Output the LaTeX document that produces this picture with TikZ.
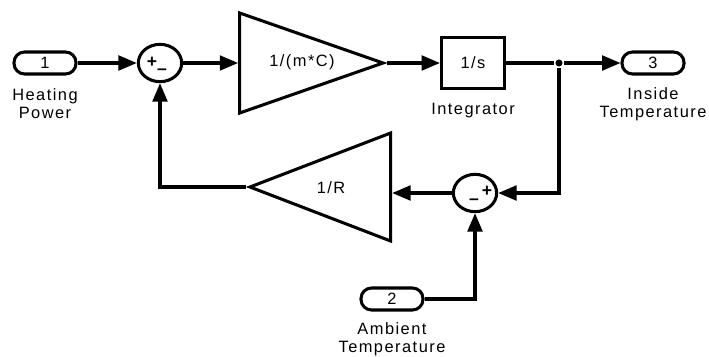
\documentclass[tikz,border=0pt]{standalone}
\usepackage{fontspec}
\setmainfont[LetterSpace=9]{Liberation Sans}
\usetikzlibrary{arrows.meta,positioning,shapes.geometric}

\begin{document}
\begin{tikzpicture}[
  x=0.03cm, y=-0.03cm,
  line width=2.6pt,
  font=\fontsize{14}{15.5}\selectfont,
  port/.style={draw, rounded corners=9pt, minimum width=1.86cm,
               minimum height=0.66cm, inner sep=0pt},
  gain/.style={draw, isosceles triangle, isosceles triangle stretches,
               inner sep=0pt},
  sum/.style={draw, ellipse, minimum width=1.3cm, minimum height=1.12cm,
              inner sep=0pt},
  block/.style={draw, minimum width=1.89cm, minimum height=1.53cm},
  lbl/.style={align=center, inner sep=0pt},
  sign/.style={font=\fontsize{15}{15}\selectfont\bfseries, inner sep=0pt},
  arrow/.style={-{Triangle[length=0.55cm,width=0.44cm]}}
]
\useasboundingbox (0,0) rectangle (709,356);

% forward path
\node[port] (in1) at (45,63) {1};
\node[lbl, below=10pt of in1] (in1lbl) {Heating\\Power};
\node[sum] (sum1) at (160,63) {};
\node[sign] (sum1p) at (152,62) {+};
\node[sign] (sum1m) at (162,72) {\textendash};
\node[gain, shape border rotate=0, minimum height=4.3cm, minimum width=3cm,
      anchor=apex] (gainC) at (387,63) {};
\node[lbl] (gainClbl) at (302,62) {1/(m*C)};
\node[block] (integ) at (473,63) {1/s};
\node[lbl, below=10pt of integ] (integlbl) {Integrator};
\node[circle, fill, inner sep=0pt, minimum size=6pt] (jn) at (559,63) {};
\node[port] (out3) at (653,63) {3};
\node[lbl, below=9pt of out3] (out3lbl) {Inside\\Temperature};

% feedback path
\node[sum] (sum2) at (475,193) {};
\node[sign] (sum2m) at (474,202) {\textendash};
\node[sign] (sum2p) at (487,191) {+};
\node[gain, shape border rotate=180, minimum height=4.22cm, minimum width=3.24cm,
      anchor=apex] (gainR) at (246,187) {};
\node[lbl] (gainRlbl) at (331,188) {1/R};
\node[port] (in2) at (392,299) {2};
\node[lbl, below=8pt of in2] (in2lbl) {Ambient\\Temperature};

\draw[arrow] (in1) -- (sum1);
\draw[arrow] (sum1.east) -- (sum1.east -| gainC.west);
\draw[arrow] (gainC.apex) -- (integ);
\draw (integ) -- (jn);
\draw[arrow] (jn) -- (out3);
\draw[arrow] (jn) |- (sum2);
\draw[arrow] (sum2.west) -- (sum2.west -| gainR.east);
\draw[arrow] (gainR.apex) -| (sum1);
\draw[arrow] (in2) -| (sum2);
\end{tikzpicture}
\end{document}
